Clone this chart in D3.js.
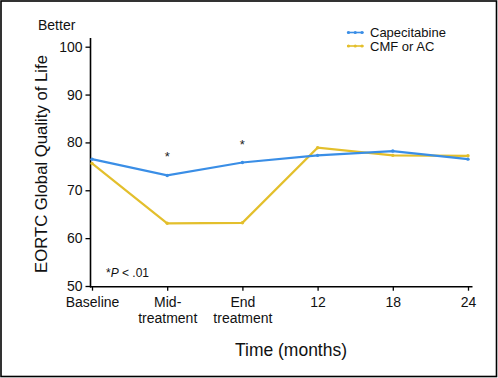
<!DOCTYPE html>
<html>
<head>
<meta charset="utf-8">
<script src="https://cdn.jsdelivr.net/npm/d3@7"></script>
<style>
  body { margin: 0; background: #fff; }
  svg { font-family: Arial, "Liberation Sans", sans-serif; }
</style>
</head>
<body>
<div id="chart"></div>
<script>
const timepoints = ['Baseline', 'Mid-treatment', 'End treatment', '12', '18', '24']
const tickLines = [['Baseline'], ['Mid-', 'treatment'], ['End', 'treatment'], ['12'], ['18'], ['24']]
const capecitabine = [76.5, 73.1, 75.8, 77.3, 78.2, 76.5]
const cmfOrAc = [75.6, 63.1, 63.2, 78.9, 77.3, 77.2]
const yTicks = [50, 60, 70, 80, 90, 100]
const significant = ['Mid-treatment', 'End treatment']
const seriesNames = ['Capecitabine', 'CMF or AC']
const colors = ['#3a8ee6', '#e3bf2c']

const svgWidth = 498
const svgHeight = 378

const svg = d3.select('#chart').append('svg')
  .attr('width', svgWidth)
  .attr('height', svgHeight)

// frame
svg.append('rect')
  .attr('x', 1).attr('y', 1)
  .attr('width', svgWidth - 2.5).attr('height', svgHeight - 2.5)
  .attr('fill', 'none').attr('stroke', '#000').attr('stroke-width', 1.6)

const xScale = d3.scalePoint().domain(timepoints).range([92, 468])
const yScale = d3.scaleLinear().domain([50, 100]).range([286, 46.7])

const g = svg.append('g')

// y axis
const yAxis = g.append('g')
  .attr('transform', 'translate(90.5,0)')
  .call(d3.axisLeft(yScale).tickValues(yTicks).tickSize(5).tickPadding(3))
yAxis.select('.domain').remove()
yAxis.append('line')
  .attr('x1', 0).attr('x2', 0)
  .attr('y1', 38).attr('y2', 287.5)
  .attr('stroke', '#000').attr('stroke-width', 1.6)
yAxis.selectAll('.tick line').attr('stroke-width', 1.3)
yAxis.selectAll('.tick text')
  .attr('font-size', 14).attr('fill', '#111')
  .attr('font-family', 'Arial, "Liberation Sans", sans-serif')

// x axis
const xAxis = g.append('g')
  .attr('transform', 'translate(0,286.7)')
  .call(d3.axisBottom(xScale).tickSize(4).tickFormat(''))
xAxis.select('.domain').remove()
xAxis.append('line')
  .attr('x1', 90).attr('x2', 472.5)
  .attr('y1', 0).attr('y2', 0)
  .attr('stroke', '#000').attr('stroke-width', 1.6)
xAxis.selectAll('.tick line').attr('stroke-width', 1.3)
xAxis.selectAll('.tick').each(function (d, i) {
  const t = d3.select(this).append('text')
    .attr('fill', '#111').attr('font-size', 14)
    .attr('text-anchor', 'middle')
  tickLines[i].forEach(function (s, j) {
    t.append('tspan').attr('x', 0).attr('y', 20 + j * 16).text(s)
  })
})

// lines
const line = d3.line()
  .x(function (d, i) { return xScale(timepoints[i]) })
  .y(function (d) { return yScale(d) })

;[cmfOrAc, capecitabine].forEach(function (series) {
  const c = series === capecitabine ? colors[0] : colors[1]
  g.append('path')
    .attr('d', line(series))
    .attr('fill', 'none')
    .attr('stroke', c)
    .attr('stroke-width', 2.2)
  g.selectAll(null).data(series).enter().append('circle')
    .attr('cx', function (d, i) { return xScale(timepoints[i]) })
    .attr('cy', function (d) { return yScale(d) })
    .attr('r', 1.7)
    .attr('fill', c)
})

// asterisks
significant.forEach(function (t) {
  const i = timepoints.indexOf(t)
  const top = Math.max(capecitabine[i], cmfOrAc[i])
  g.append('text')
    .attr('x', xScale(t))
    .attr('y', yScale(top) - 14)
    .attr('text-anchor', 'middle')
    .attr('font-size', 13)
    .attr('fill', '#222')
    .text('*')
})

// legend
seriesNames.forEach(function (name, i) {
  const ly = 32.5 + i * 13.5
  const lg = svg.append('g')
  lg.append('line')
    .attr('x1', 347).attr('x2', 363.5)
    .attr('y1', ly).attr('y2', ly)
    .attr('stroke', colors[i]).attr('stroke-width', 1.6)
  ;[348.5, 355.25, 362].forEach(function (cx) {
    lg.append('circle').attr('cx', cx).attr('cy', ly).attr('r', 1.6).attr('fill', colors[i])
  })
  lg.append('text')
    .attr('x', 370).attr('y', ly + 4.5)
    .attr('font-size', 13).attr('fill', '#111')
    .text(name)
})

// annotations
svg.append('text')
  .attr('x', 38).attr('y', 30)
  .attr('font-size', 14).attr('fill', '#111')
  .text('Better')

const pNote = svg.append('text')
  .attr('x', 106).attr('y', 277)
  .attr('font-size', 12).attr('fill', '#111')
pNote.append('tspan').text('*')
pNote.append('tspan').attr('font-style', 'italic').text('P')
pNote.append('tspan').text(' < .01')

svg.append('text')
  .attr('transform', 'translate(47,164) rotate(-90)')
  .attr('text-anchor', 'middle')
  .attr('font-size', 17).attr('fill', '#111')
  .attr('font-family', '"Liberation Sans Narrow", "Arial Narrow", Arial, sans-serif')
  .attr('textLength', 218).attr('lengthAdjust', 'spacingAndGlyphs')
  .text('EORTC Global Quality of Life')

svg.append('text')
  .attr('x', 291).attr('y', 356)
  .attr('text-anchor', 'middle')
  .attr('font-size', 19).attr('fill', '#111')
  .attr('font-family', '"Liberation Sans Narrow", "Arial Narrow", Arial, sans-serif')
  .attr('textLength', 112).attr('lengthAdjust', 'spacingAndGlyphs')
  .text('Time (months)')
</script>
</body>
</html>
